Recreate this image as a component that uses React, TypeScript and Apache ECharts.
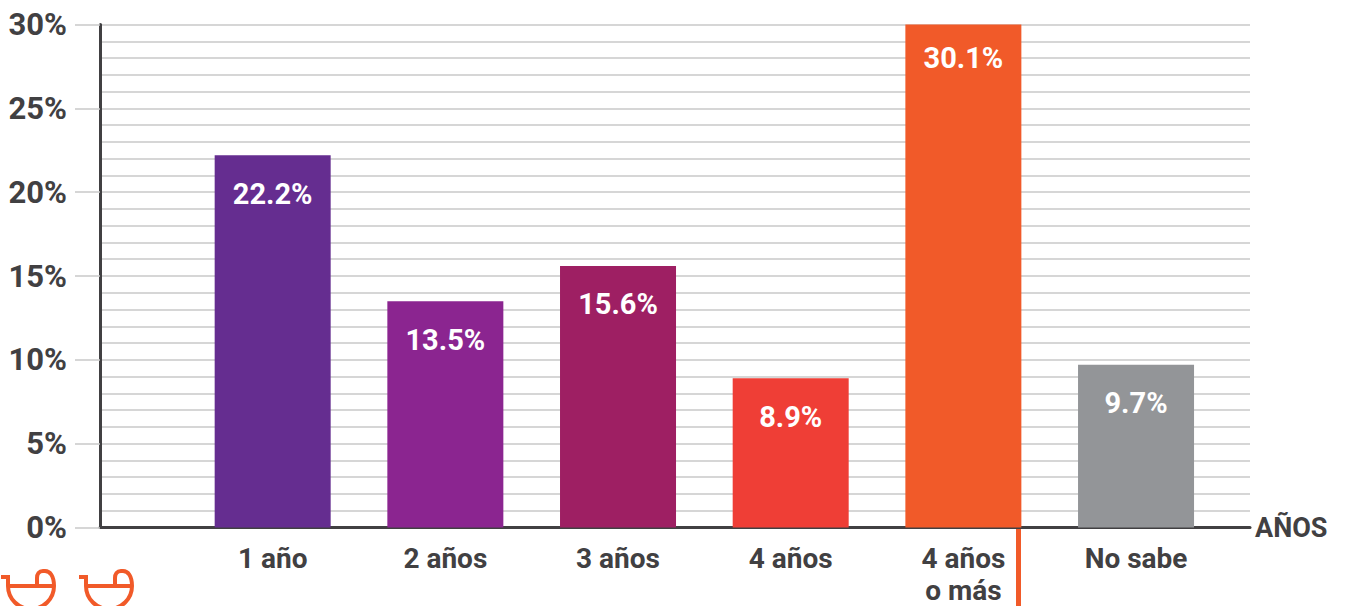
import React, { useEffect, useRef } from "react";
import * as echarts from "echarts";

const categories = ["1 año", "2 años", "3 años", "4 años", "4 años\no más", "No sabe"];
const values = [22.2, 13.5, 15.6, 8.9, 30.1, 9.7];
const valueLabels = ["22.2%", "13.5%", "15.6%", "8.9%", "30.1%", "9.7%"];
const barColors = ["#652D90", "#8B2590", "#9E1F63", "#EF3E36", "#F15A29", "#939598"];
const axisName = "AÑOS";

const FONT = 'Roboto, "Liberation Sans", sans-serif';
const DARK = "#414042";
const ORANGE = "#F15A29";

const MORTAR = "M1 577 L8 577 L8 586 A23 23 0 0 0 54 586 C54 576 50 571 45 571 L43 571 C39 571 37 574 37 578 L37 586 M8 586 L54 586";

export default function App() {
  const ref = useRef<HTMLDivElement>(null);
  useEffect(() => {
    document.body.style.margin = "0";
    echarts.graphic.registerShape("mortar", echarts.graphic.extendPath(MORTAR, {}) as any);
    const chart = echarts.init(ref.current!, null, { renderer: "svg" });
    chart.setOption({
      animation: false,
      backgroundColor: "#ffffff",
      grid: { left: 100, right: 95, top: 24.5, bottom: 78.5, containLabel: false, outerBoundsMode: "none" },
      xAxis: {
        type: "value",
        min: 0,
        max: 6.66,
        interval: 1,
        splitLine: { show: false },
        axisTick: { show: false },
        axisLine: { show: true, lineStyle: { color: DARK, width: 3 } },
        axisLabel: {
          showMaxLabel: false,
          hideOverlap: false,
          margin: 15,
          color: DARK,
          fontFamily: FONT,
          fontWeight: "bold",
          fontSize: 28,
          lineHeight: 32,
          verticalAlign: "top",
          formatter: (v: number) => (Number.isInteger(v) && v >= 1 ? categories[v - 1] : ""),
        },
        name: axisName,
        nameLocation: "end",
        nameGap: 5,
        nameTextStyle: { color: DARK, fontFamily: FONT, fontWeight: "bold", fontSize: 27, verticalAlign: "middle", padding: [3, 0, 0, 0] },
      },
      yAxis: {
        type: "value",
        min: 0,
        max: 30,
        interval: 5,
        axisLine: { show: true, lineStyle: { color: DARK, width: 3 } },
        axisTick: { show: true, length: 25, lineStyle: { color: "#c8c8c8", width: 1.5 } },
        axisLabel: {
          margin: 33,
          color: DARK,
          fontFamily: FONT,
          fontWeight: "bold",
          fontSize: 31,
          padding: [4, 0, 0, 0],
          formatter: "{value}%",
        },
        splitLine: { show: true, lineStyle: { color: "#c8c8c8", width: 1.5 } },
        minorTick: { show: false, splitNumber: 5 },
        minorSplitLine: { show: true, lineStyle: { color: "#c8c8c8", width: 1.5 } },
      },
      series: [
        {
          type: "bar",
          barWidth: 116,
          clip: true,
          data: values.map((v, i) => ({
            value: [i + 1, v],
            itemStyle: { color: barColors[i] },
            label: { formatter: valueLabels[i], distance: v > 30 ? 19 : 24 },
          })),
          label: {
            show: true,
            position: "insideTop",
            distance: 24,
            color: "#ffffff",
            fontFamily: FONT,
            fontWeight: "bold",
            fontSize: 29,
          },
        },
      ],
      graphic: [
        { type: "rect", shape: { x: 1016, y: 529, width: 5, height: 77 }, style: { fill: ORANGE } },
        { type: "mortar", x: 0, y: 0, style: { fill: "none", stroke: ORANGE, lineWidth: 4 } },
        { type: "mortar", x: 78, y: 0, style: { fill: "none", stroke: ORANGE, lineWidth: 4 } },
      ],
    });
    return () => chart.dispose();
  }, []);
  return <div ref={ref} style={{ width: 1345, height: 606 }} />;
}
